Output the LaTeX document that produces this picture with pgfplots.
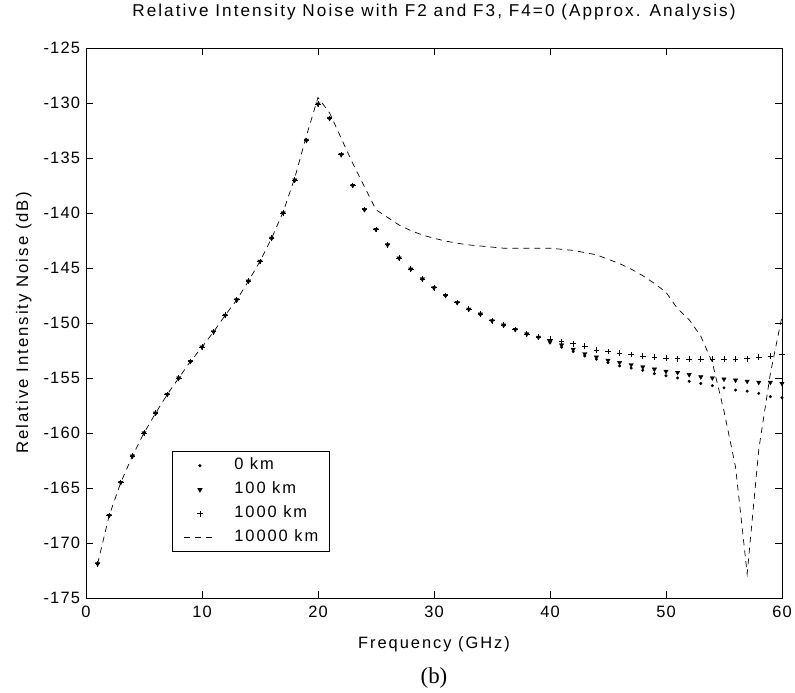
\documentclass[border=0pt]{standalone}
\usepackage{fontspec}
\setmainfont{Liberation Sans}[LetterSpace=12]
\newfontfamily\tickfont{Liberation Sans}[LetterSpace=7]
\newfontfamily\seriffont{Liberation Serif}
\usepackage{pgfplots}
\usepackage{pgfplotstable}
\pgfplotsset{compat=1.18}
\pgfplotsset{
  markleg/.style={legend image code/.code={\draw[mark repeat=2,mark phase=2,##1] plot coordinates {(0bp,0bp) (16bp,0bp) (32bp,0bp)};}},
  lineleg/.style={legend image code/.code={\draw[##1] (0bp,0bp) -- (32bp,0bp);}},
}

\pgfplotstableread{
x y
1 -171.9
2 -167.5
3 -164.5
4 -162.1
5 -160.0
6 -158.2
7 -156.5
8 -155.0
9 -153.5
10 -152.2
11 -150.8
12 -149.3
13 -147.9
14 -146.2
15 -144.4
16 -142.3
17 -140.0
18 -137.0
19 -133.4
20 -130.1
21 -131.4
22 -134.7
23 -137.5
24 -139.7
25 -141.5
26 -142.9
27 -144.1
28 -145.1
29 -146.0
30 -146.8
31 -147.5
32 -148.15
33 -148.75
34 -149.2
35 -149.8
36 -150.2
37 -150.6
38 -151.0
39 -151.3
40 -151.8
41 -152.2
42 -152.6
43 -153.0
44 -153.3
45 -153.6
46 -153.9
47 -154.1
48 -154.3
49 -154.6
50 -154.8
51 -155.0
52 -155.3
53 -155.5
54 -155.7
55 -155.9
56 -156.1
57 -156.2
58 -156.4
59 -156.7
60 -156.8
}\zerokm

\pgfplotstableread{
x y
1 -171.9
2 -167.5
3 -164.5
4 -162.1
5 -160.0
6 -158.2
7 -156.5
8 -155.0
9 -153.5
10 -152.2
11 -150.8
12 -149.3
13 -147.9
14 -146.2
15 -144.4
16 -142.3
17 -140.0
18 -137.0
19 -133.4
20 -130.1
21 -131.4
22 -134.7
23 -137.5
24 -139.7
25 -141.5
26 -142.9
27 -144.1
28 -145.1
29 -146.0
30 -146.8
31 -147.5
32 -148.15
33 -148.75
34 -149.2
35 -149.8
36 -150.2
37 -150.6
38 -151.0
39 -151.3
40 -151.7
41 -152.0
42 -152.4
43 -152.8
44 -153.1
45 -153.4
46 -153.6
47 -153.8
48 -154.0
49 -154.2
50 -154.4
51 -154.5
52 -154.7
53 -154.9
54 -155.0
55 -155.1
56 -155.2
57 -155.3
58 -155.4
59 -155.4
60 -155.5
}\hundredkm

\pgfplotstableread{
x y
1 -171.9
2 -167.5
3 -164.5
4 -162.1
5 -160.0
6 -158.2
7 -156.5
8 -155.0
9 -153.5
10 -152.2
11 -150.8
12 -149.3
13 -147.9
14 -146.2
15 -144.4
16 -142.3
17 -140.0
18 -137.0
19 -133.4
20 -130.1
21 -131.4
22 -134.7
23 -137.5
24 -139.7
25 -141.5
26 -142.9
27 -144.1
28 -145.1
29 -146.0
30 -146.8
31 -147.5
32 -148.15
33 -148.75
34 -149.2
35 -149.8
36 -150.2
37 -150.6
38 -151.0
39 -151.3
40 -151.45
41 -151.7
42 -151.9
43 -152.1
44 -152.45
45 -152.6
46 -152.75
47 -152.85
48 -153.0
49 -153.1
50 -153.2
51 -153.25
52 -153.3
53 -153.3
54 -153.3
55 -153.3
56 -153.3
57 -153.25
58 -153.1
59 -153.0
60 -152.9
}\thousandkm

\pgfplotstableread{
x y
1 -171.9
2 -167.5
3 -164.5
4 -162.1
5 -160.0
6 -158.2
7 -156.5
8 -155.0
9 -153.5
10 -152.2
11 -150.8
12 -149.3
13 -147.9
14 -146.2
15 -144.4
16 -142.3
17 -139.9
18 -136.8
19 -133.0
20 -129.5
21 -130.9
22 -133.2
23 -135.5
24 -137.6
25 -139.7
26 -140.4
27 -141.1
28 -141.6
29 -142.0
30 -142.3
31 -142.55
32 -142.75
33 -142.9
34 -143.0
35 -143.1
36 -143.2
37 -143.2
38 -143.2
39 -143.2
40 -143.2
41 -143.3
42 -143.4
43 -143.6
44 -143.8
45 -144.2
46 -144.6
47 -145.1
48 -145.7
49 -146.4
50 -147.2
51 -148.7
52 -149.7
53 -151.2
54 -153.6
55 -158.0
56 -163.1
57 -172.8
58 -161.5
59 -154.6
60 -149.4
}\tenthousandkm

\begin{document}
\begin{tikzpicture}
\begin{axis}[
  at={(0,0)}, anchor=south west,
  scale only axis,
  width=696bp, height=550bp,
  xmin=0, xmax=60, ymin=-175, ymax=-125,
  xtick={0,10,...,60},
  ytick={-175,-170,...,-125},
  yticklabels={{-175},{-170},{-165},{-160},{-155},{-150},{-145},{-140},{-135},{-130},{-125}},
  xticklabels={0,10,20,30,40,50,60},
  minor tick num=0,
  tick align=inside,
  major tick length=7bp,
  axis line style={line width=0.6bp, black},
  every tick/.style={line width=0.6bp, black},
  tick label style={font=\tickfont\fontsize{16.5}{19}\selectfont},
  xticklabel style={yshift=-4.5bp},
  yticklabel style={xshift=-2.5bp},
  title={Relative Intensity Noise with F2 and F3, F4=0 (Approx. Analysis)},
  title style={font=\fontsize{17.2}{20}\selectfont, at={(axis description cs:0.5,1)}, anchor=base, yshift=26bp},
  xlabel={Frequency (GHz)},
  xlabel style={font=\fontsize{16.5}{19}\selectfont, at={(axis description cs:0.5,0)}, anchor=base, yshift=-51bp},
  ylabel={Relative Intensity Noise (dB)},
  ylabel style={font=\fontsize{16.8}{19}\selectfont, at={(axis description cs:-0.0833,0.5)}, anchor=base},
  legend style={at={(axis description cs:0.124,0.0836)}, anchor=south west,
    draw=black, line width=0.6bp, font=\fontsize{16.5}{19}\selectfont,
    inner xsep=11bp, inner ysep=6bp,
    nodes={inner sep=0pt, text height=12bp, text depth=4bp, anchor=west},
    row sep=8bp,
    /tikz/every odd column/.append style={column sep=18bp}},
  legend cell align=left,
]
\addplot[only marks, black, mark=*, mark size=1.3bp, markleg]
  table[x=x,y=y] {\zerokm};
\addlegendentry{0 km}
\addplot[only marks, black, mark=triangle*, mark size=2.5bp, mark options={rotate=180}, markleg]
  table[x=x,y=y] {\hundredkm};
\addlegendentry{100 km}
\addplot[only marks, black, mark=+, mark size=2.8bp, line width=0.8bp, markleg]
  table[x=x,y=y] {\thousandkm};
\addlegendentry{1000 km}
\addplot[black, line width=0.7bp, dash pattern=on 6bp off 5bp, lineleg]
  table[x=x,y=y] {\tenthousandkm};
\addlegendentry{10000 km}
\end{axis}
\node[font=\seriffont\fontsize{23}{26}\selectfont, anchor=base] at (348bp,-86bp) {(b)};
\path[use as bounding box] (-86bp,-94bp) rectangle (709bp,598bp);
\end{tikzpicture}
\end{document}
